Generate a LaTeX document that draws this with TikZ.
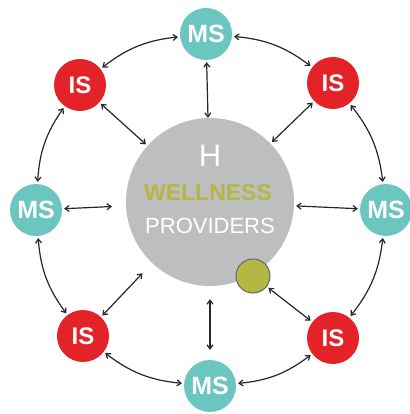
\documentclass[tikz,border=0pt]{standalone}
\usepackage{fontspec}
\setmainfont{Liberation Sans}
\usetikzlibrary{arrows.meta,positioning}

\definecolor{msteal}{HTML}{6CC6C0}
\definecolor{isred}{HTML}{E42329}
\definecolor{hubgray}{HTML}{BDBEC0}
\definecolor{wellolive}{HTML}{B5B743}

\begin{document}
\begin{tikzpicture}[x=1pt,y=-1pt,% pixel-like units, y pointing down
        ms/.style={circle,fill=msteal,minimum size=52pt,inner sep=0pt,text=white,font=\fontsize{25}{25}\selectfont\bfseries},
        is/.style={ms,fill=isred,font=\fontsize{24}{24}\selectfont\bfseries},
        link/.style={line width=1.2pt,black!85,<->,>={Straight Barb[length=4pt,width=6pt]},shorten <=2pt,shorten >=2pt}]
\useasboundingbox (0,0) rectangle (409,414);
\node[circle,fill=hubgray,minimum size=168pt,inner sep=0pt] (hub) at (210,202) {};
\node[text=white,font=\fontsize{31}{31}\selectfont] (hubH) at (210,156) {H};
\node[text=wellolive,font=\fontsize{23}{23}\selectfont\bfseries] (hubW) at (208,193) {WELLNESS};
\node[text=white,font=\fontsize{22}{22}\selectfont] (hubP) at (210,226) {PROVIDERS};
\node[circle,fill=wellolive,draw=black!60,line width=1pt,minimum size=34pt,inner sep=0pt] (dot) at (253,276) {};
\foreach \name/\x/\y/\kind/\txt in {ms1/206/34/ms/MS, is1/333/83/is/IS, ms2/386/210/ms/MS, is2/333/338/is/IS,
        ms3/210/386/ms/MS, is3/83/336/is/IS, ms4/36/210/ms/MS, is4/80/85/is/IS}{ %clockwise from the top
\node[\kind] (\name) at (\x,\y) {\txt};
}
\foreach \a/\b in {ms1/is1,is1/ms2,ms2/is2,is2/ms3,ms3/is3,is3/ms4,ms4/is4,is4/ms1}{ %outer ring
\draw[link] (\a) to[bend left=16] (\b);
}
\foreach \b/\gap/\tail in {ms1/0/2,is1/2/2,ms2/2/2,ms3/13/10,is3/14/2,ms4/14/2,is4/2/2}{ %spokes to the hub
\draw[link,shorten <=\gap pt,shorten >=\tail pt] (hub) -- (\b);
}
\draw[link] (dot) -- (is2);
\end{tikzpicture}
\end{document}
